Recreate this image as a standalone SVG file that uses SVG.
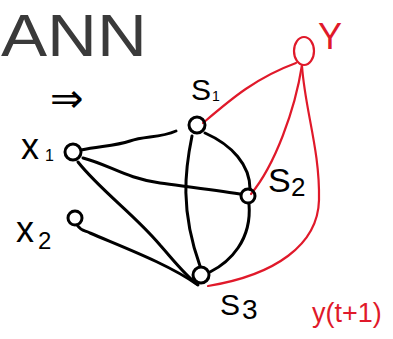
<svg xmlns="http://www.w3.org/2000/svg" width="393" height="339" viewBox="0 0 393 339">
<style>
.n{fill:none;stroke:#000;stroke-width:3}
.e{fill:none;stroke:#000;stroke-width:3;stroke-linecap:round}
.r{fill:none;stroke:#e0192a;stroke-width:2.2;stroke-linecap:round}
.t{font-family:"Liberation Sans","DejaVu Sans",sans-serif;fill:#000}
.tr{font-family:"Liberation Sans","DejaVu Sans",sans-serif;fill:#e0192a}
</style>
<rect width="393" height="339" fill="#fff"/>
<text class="t" x="1" y="56" font-size="60" textLength="146" lengthAdjust="spacingAndGlyphs" style="fill:#3a3a3a">ANN</text>
<text class="t" x="50" y="112" font-size="40">⇒</text>
<g id="connectors">
<path class="e" d="M81,150 C100,146 115,146 130,141 C145,136 160,138 176,131"/>
<path class="e" d="M83,158 C110,165 125,178 160,183 C190,187 215,190 240,194"/>
<path class="e" d="M78,162 C100,190 135,215 160,245 C175,262 185,275 197,284"/>
<path class="e" d="M77,225 C82,232 85,230 90,233 C125,248 168,264 198,285"/>
<path class="e" d="M192,136 C185,170 180,210 200,266"/>
<path class="e" d="M205,133 C232,145 250,165 250,189"/>
<path class="e" d="M249,204 C252,240 230,262 210,272"/>
<path class="r" d="M203,123 C230,100 255,78 296,63"/>
<path class="r" d="M251,194 C275,165 295,110 302,65"/>
<path class="r" d="M208,286 C275,275 318,245 319,200 C320,150 305,110 302,66"/>
</g>
<g id="x1"><circle class="n" cx="73" cy="152" r="8"/><text class="t" x="21" y="159" font-size="36">x</text><text class="t" x="45" y="161" font-size="16">1</text></g>
<g id="x2"><circle class="n" cx="75" cy="218" r="7"/><text class="t" x="16" y="242" font-size="36">x</text><text class="t" x="38" y="249" font-size="24">2</text></g>
<g id="S1"><circle class="n" cx="197" cy="125" r="8"/><text class="t" x="191" y="100" font-size="30">S</text><text class="t" x="212" y="101" font-size="14">1</text></g>
<g id="S2"><circle class="n" cx="248" cy="196" r="7"/><text class="t" x="268" y="192" font-size="34">S</text><text class="t" x="291" y="196" font-size="26">2</text></g>
<g id="S3"><circle class="n" cx="201" cy="275" r="8"/><text class="t" x="220" y="315" font-size="30">S</text><text class="t" x="242" y="319" font-size="28">3</text></g>
<g id="Y"><ellipse class="r" cx="304" cy="51" rx="10" ry="14"/><text class="tr" x="318" y="49" font-size="36">Y</text></g>
<text class="tr" x="312" y="322" font-size="27">y(t+1)</text>
</svg>
